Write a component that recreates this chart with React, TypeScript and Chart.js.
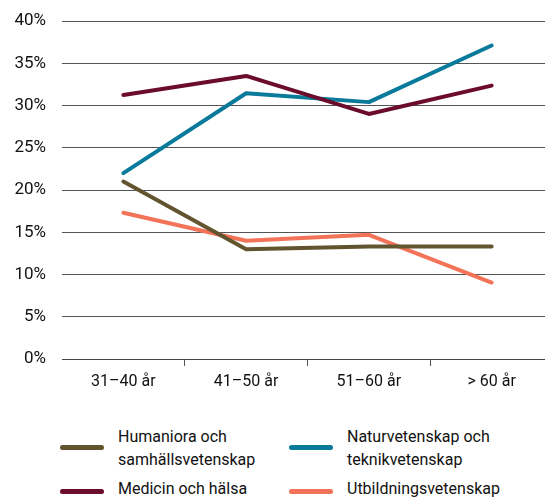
import React, { useEffect, useRef } from 'react';
import { Chart, registerables } from 'chart.js';

Chart.register(...registerables);

const categories = ['31–40 år', '41–50 år', '51–60 år', '> 60 år'];
const seriesNames = [
  'Humaniora och samhällsvetenskap',
  'Medicin och hälsa',
  'Naturvetenskap och teknikvetenskap',
  'Utbildningsvetenskap',
];
const humaniora = [21.0, 13.0, 13.3, 13.3];
const medicin = [31.25, 33.5, 29.0, 32.35];
const naturvetenskap = [22.0, 31.45, 30.4, 37.1];
const utbildning = [17.3, 14.0, 14.7, 9.05];
const seriesColors = ['#62542f', '#6b0c2c', '#0a7a9b', '#f37358'];
const yMin = 0;
const yMax = 40;
const yStep = 5;

const seriesValues = [humaniora, medicin, naturvetenskap, utbildning];
// legend display order (two columns)
const legendOrder = [0, 2, 1, 3];

const FONT = 'Roboto, "Noto Sans", sans-serif';

export default function App() {
  const ref = useRef<HTMLCanvasElement | null>(null);

  useEffect(() => {
    if (!ref.current) return;
    const chart = new Chart(ref.current, {
      type: 'line',
      data: {
        labels: categories,
        datasets: seriesNames.map((name, i) => ({
          label: name,
          data: seriesValues[i],
          borderColor: seriesColors[i],
          backgroundColor: seriesColors[i],
          borderWidth: 4,
          pointRadius: 0,
          pointHoverRadius: 0,
          tension: 0,
          borderCapStyle: 'round' as const,
          borderJoinStyle: 'round' as const,
          fill: false,
        })),
      },
      options: {
        animation: false,
        responsive: false,
        devicePixelRatio: 1,
        layout: { padding: { top: 21, right: 0, bottom: 0, left: 0 } },
        plugins: {
          legend: { display: false },
          tooltip: { enabled: false },
        },
        scales: {
          x: {
            offset: true,
            grid: {
              offset: true,
              drawOnChartArea: false,
              drawTicks: true,
              tickLength: 7,
              color: (ctx: any) => (ctx.index === 0 ? 'rgba(0,0,0,0)' : '#555'),
              lineWidth: 1,
            },
            border: { display: true, color: '#444', width: 1 },
            ticks: {
              color: '#111',
              font: { family: FONT, size: 16 },
              padding: 6,
              maxRotation: 0,
            },
            afterFit: (s: any) => {
              s.height = 40;
            },
          },
          y: {
            min: yMin,
            max: yMax,
            grid: {
              drawTicks: true,
              tickLength: 12,
              tickColor: 'rgba(0,0,0,0)',
              color: '#555',
              lineWidth: 1,
            },
            border: { display: false },
            ticks: {
              stepSize: yStep,
              color: '#111',
              font: { family: FONT, size: 17 },
              padding: 4,
              callback: (v: any) => `${v}%`,
            },
            afterFit: (s: any) => {
              s.width = 62;
            },
          },
        },
      },
    });
    return () => chart.destroy();
  }, []);

  return (
    <div
      style={{
        position: 'fixed',
        left: 0,
        top: 0,
        width: 545,
        height: 499,
        overflow: 'hidden',
        background: '#fff',
        fontFamily: FONT,
      }}
    >
      <canvas
        ref={ref}
        width={553}
        height={399}
        style={{ position: 'absolute', left: 0, top: 0, width: 553, height: 399 }}
      />
      {legendOrder.map((si, k) => {
        const col = k % 2;
        const row = Math.floor(k / 2);
        const left = col === 0 ? 60 : 289;
        const top = row === 0 ? 425 : 477;
        return (
          <div
            key={si}
            style={{ position: 'absolute', left, top, display: 'flex', alignItems: 'flex-start' }}
          >
            <div
              style={{
                width: 44,
                height: 5,
                borderRadius: 3,
                background: seriesColors[si],
                marginTop: row === 0 ? 20 : 12,
              }}
            />
            <div
              style={{
                marginLeft: 14,
                width: 150,
                fontSize: 16,
                lineHeight: '23px',
                color: '#111',
              }}
            >
              {seriesNames[si]}
            </div>
          </div>
        );
      })}
    </div>
  );
}
